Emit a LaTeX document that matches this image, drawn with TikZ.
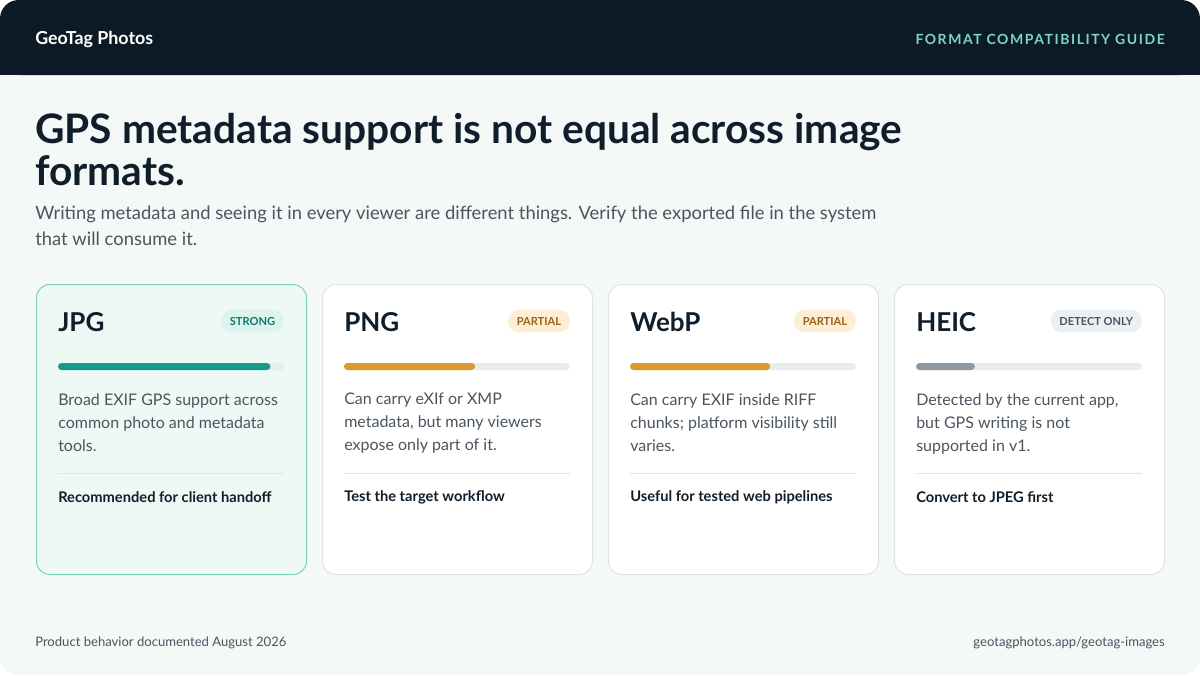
\documentclass[tikz,border=0pt]{standalone}
\usepackage{fontspec}
\setmainfont{Lato}
\definecolor{ink}{HTML}{0F1E2A}
\definecolor{head}{HTML}{0B1A26}
\definecolor{page}{HTML}{F4F8F7}
\definecolor{muted}{HTML}{4A5560}
\definecolor{line}{HTML}{DDE3E6}
\definecolor{accent}{HTML}{7DD3C8}
\definecolor{teal}{HTML}{159C88}
\definecolor{amber}{HTML}{D89A2B}
\definecolor{slate}{HTML}{8D99A3}
\definecolor{track}{HTML}{E8ECEC}
\tikzset{
  card/.style={rounded corners=10pt, line width=0.75pt},
  fmt/.style={anchor=west, inner sep=0pt, text=ink, font=\fontsize{19.5}{22}\selectfont\bfseries},
  badge/.style={anchor=east, rounded corners=8pt, inner xsep=6.5pt, minimum height=17pt, font=\fontsize{8.3}{9}\selectfont\bfseries},
  body/.style={anchor=north west, inner sep=0pt, align=left, text=muted, font=\fontsize{12}{17.25}\selectfont},
  tip/.style={anchor=west, inner sep=0pt, text=ink, font=\fontsize{11}{12}\selectfont\bfseries},
  foot/.style={inner sep=0pt, text=muted, font=\fontsize{9.8}{11}\selectfont},
}
\begin{document}
\begin{tikzpicture}[x=0.75pt, y=-0.75pt]
\useasboundingbox (0,0) rectangle (1200,675);
\fill[page, rounded corners=14pt] (0,0) rectangle (1200,675);
\fill[head, rounded corners=14pt] (0,0) rectangle (1200,75);
\fill[head] (0,40) rectangle (1200,75);
\node[anchor=west, inner sep=0pt, text=white, font=\fontsize{13.4}{15}\selectfont\bfseries] (brand) at (35,39) {GeoTag Photos};
\node[anchor=east, inner sep=0pt, text=accent, font=\fontsize{10.5}{12}\selectfont\bfseries\addfontfeatures{LetterSpace=11}] (guide) at (1165,39) {FORMAT COMPATIBILITY GUIDE};
\node[anchor=north west, inner sep=0pt, align=left, text=ink, font=\fontsize{30.5}{31.5}\selectfont\bfseries] (title) at (35,113) {GPS metadata support is not equal across image\\formats.};
\node[anchor=north west, inner sep=0pt, align=left, text=muted, font=\fontsize{13.8}{19.5}\selectfont] (lead) at (35,206) {Writing metadata and seeing it in every viewer are different things. Verify the exported file in the system\\that will consume it.};
% cards
\foreach \x/\n/\cdraw/\cfill/\lbl/\bfill/\btext/\bar/\pct/\txt/\hint in {
  36/JPG/7FD0C0/EEF9F6/STRONG/DDF3EE/0F7A68/teal/0.94/{Broad EXIF GPS support across\\common photo and metadata\\tools.}/Recommended for client handoff,
  322/PNG/DDE3E6/FFFFFF/PARTIAL/FCEFD6/9A6212/amber/0.58/{Can carry eXIf or XMP\\metadata, but many viewers\\expose only part of it.}/Test the target workflow,
  608/WebP/DDE3E6/FFFFFF/PARTIAL/FCEFD6/9A6212/amber/0.62/{Can carry EXIF inside RIFF\\chunks; platform visibility still\\varies.}/Useful for tested web pipelines,
  894/HEIC/DDE3E6/FFFFFF/DETECT ONLY/EDF0F2/4A5560/slate/0.26/{Detected by the current app,\\but GPS writing is not\\supported in v1.}/Convert to JPEG first}{
  \definecolor{cdraw}{HTML}{\cdraw}
  \definecolor{cfill}{HTML}{\cfill}
  \definecolor{bfill}{HTML}{\bfill}
  \definecolor{btext}{HTML}{\btext}
  \node[card, draw=cdraw, fill=cfill, anchor=north west, minimum width=202.5pt, minimum height=217.5pt] (\n-card) at (\x,284) {};
  \node[fmt] (\n-name) at (\x+22,322) {\n};
  \node[badge, fill=bfill, text=btext] (\n-badge) at (\x+248,321) {\lbl};
  \fill[track, rounded corners=2.6pt] (\x+22,363) rectangle (\x+248,370);
  \fill[\bar, rounded corners=2.6pt] (\x+22,363) rectangle (\x+22+226*\pct,370);
  \node[body] (\n-body) at (\x+22,393) {\txt};
  \draw[line, line width=0.75pt] (\x+22,473) -- (\x+248,473);
  \node[tip] (\n-tip) at (\x+22,497) {\hint};
}
\node[foot, anchor=west] (date) at (35,643) {Product behavior documented August 2026};
\node[foot, anchor=east] (url) at (1165,643) {geotagphotos.app/geotag-images};
\end{tikzpicture}
\end{document}
